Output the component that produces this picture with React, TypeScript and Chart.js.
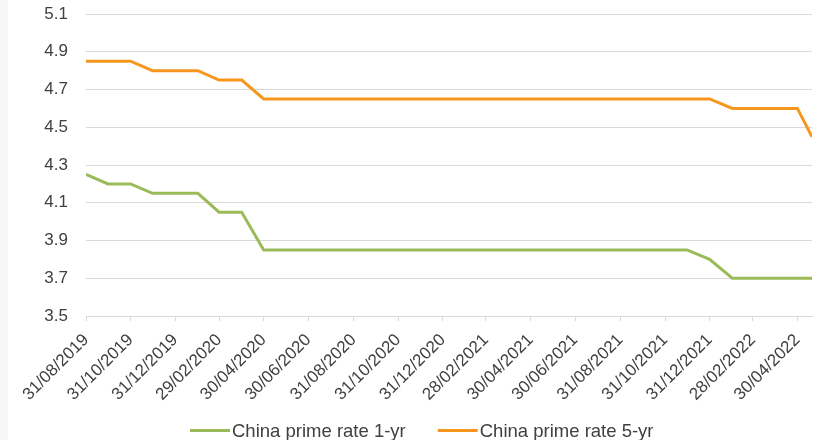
import React, { useEffect, useRef } from "react";
import { Chart, registerables } from "chart.js";

Chart.register(...registerables);

const dates = [
  "31/08/2019", "30/09/2019", "31/10/2019", "30/11/2019", "31/12/2019",
  "31/01/2020", "29/02/2020", "31/03/2020", "30/04/2020", "31/05/2020",
  "30/06/2020", "31/07/2020", "31/08/2020", "30/09/2020", "31/10/2020",
  "30/11/2020", "31/12/2020", "31/01/2021", "28/02/2021", "31/03/2021",
  "30/04/2021", "31/05/2021", "30/06/2021", "31/07/2021", "31/08/2021",
  "30/09/2021", "31/10/2021", "30/11/2021", "31/12/2021", "31/01/2022",
  "28/02/2022", "31/03/2022", "30/04/2022", "20/05/2022",
];

const rate1y = [
  4.25, 4.2, 4.2, 4.15, 4.15, 4.15, 4.05, 4.05, 3.85, 3.85,
  3.85, 3.85, 3.85, 3.85, 3.85, 3.85, 3.85, 3.85, 3.85, 3.85,
  3.85, 3.85, 3.85, 3.85, 3.85, 3.85, 3.85, 3.85, 3.8, 3.7,
  3.7, 3.7, 3.7, 3.7,
];

const rate5y = [
  4.85, 4.85, 4.85, 4.8, 4.8, 4.8, 4.75, 4.75, 4.65, 4.65,
  4.65, 4.65, 4.65, 4.65, 4.65, 4.65, 4.65, 4.65, 4.65, 4.65,
  4.65, 4.65, 4.65, 4.65, 4.65, 4.65, 4.65, 4.65, 4.65, 4.6,
  4.6, 4.6, 4.6, 4.45,
];

const tickLabels = [
  "31/08/2019", "31/10/2019", "31/12/2019", "29/02/2020", "30/04/2020",
  "30/06/2020", "31/08/2020", "31/10/2020", "31/12/2020", "28/02/2021",
  "30/04/2021", "30/06/2021", "31/08/2021", "31/10/2021", "31/12/2021",
  "28/02/2022", "30/04/2022",
];

const seriesNames = ["China prime rate 1-yr", "China prime rate 5-yr"];
const yMin = 3.5;
const yMax = 5.1;
const yStep = 0.2;

const toDay = (s: string) => {
  const [d, m, y] = s.split("/").map(Number);
  return Date.UTC(y, m - 1, d) / 86400000;
};
const fmtDay = (v: number) => {
  const dt = new Date(Math.round(v) * 86400000);
  const dd = String(dt.getUTCDate()).padStart(2, "0");
  const mm = String(dt.getUTCMonth() + 1).padStart(2, "0");
  return `${dd}/${mm}/${dt.getUTCFullYear()}`;
};

const FONT = '"Liberation Sans", Arial, sans-serif';

const legendPlugin = {
  id: "customLegend",
  afterDraw(chart: any) {
    const ctx = chart.ctx;
    ctx.save();
    ctx.font = `18.5px ${FONT}`;
    ctx.textBaseline = "middle";
    ctx.textAlign = "left";
    let x = 190;
    const y = 430.5;
    chart.data.datasets.forEach((ds: any) => {
      ctx.strokeStyle = ds.borderColor;
      ctx.lineWidth = 3;
      ctx.beginPath();
      ctx.moveTo(x, y);
      ctx.lineTo(x + 40, y);
      ctx.stroke();
      ctx.fillStyle = "#404040";
      ctx.fillText(ds.label, x + 42, y + 1);
      x += 42 + ctx.measureText(ds.label).width + 32;
    });
    ctx.restore();
  },
};

export default function App() {
  const ref = useRef<HTMLCanvasElement>(null);
  useEffect(() => {
    if (!ref.current) return;
    const xs = dates.map(toDay);
    const chart = new Chart(ref.current, {
      type: "line",
      data: {
        datasets: [
          {
            label: seriesNames[0],
            data: xs.map((x, i) => ({ x, y: rate1y[i] })),
            borderColor: "#9BBB59",
            backgroundColor: "#9BBB59",
            borderWidth: 3,
            pointRadius: 0,
            tension: 0,
          },
          {
            label: seriesNames[1],
            data: xs.map((x, i) => ({ x, y: rate5y[i] })),
            borderColor: "#F7961E",
            backgroundColor: "#F7961E",
            borderWidth: 3,
            pointRadius: 0,
            tension: 0,
          },
        ],
      },
      options: {
        responsive: false,
        animation: false,
        layout: { padding: { top: 14, right: 5, bottom: 0, left: 0 } },
        plugins: {
          legend: { display: false },
          tooltip: { enabled: false },
        },
        scales: {
          x: {
            type: "linear",
            min: xs[0],
            max: xs[xs.length - 1],
            afterBuildTicks: (s: any) => {
              s.ticks = tickLabels.map((t) => ({ value: toDay(t) }));
            },
            afterFit: (s: any) => {
              s.height = 124;
              s.paddingLeft = 0;
              s.paddingRight = 0;
            },
            ticks: {
              autoSkip: false,
              minRotation: 45,
              maxRotation: 45,
              padding: 9,
              color: "#404040",
              font: { family: FONT, size: 17 },
              callback: (v: any) => fmtDay(Number(v)),
            },
            grid: {
              display: true,
              drawOnChartArea: false,
              drawTicks: true,
              tickLength: 5,
              color: "#d9d9d9",
            },
            border: { display: true, color: "#d9d9d9" },
          },
          y: {
            min: yMin,
            max: yMax,
            afterFit: (s: any) => {
              s.width = 86;
            },
            ticks: {
              stepSize: yStep,
              padding: 0,
              color: "#404040",
              font: { family: FONT, size: 17 },
              callback: (v: any) => Number(v).toFixed(1),
            },
            grid: {
              color: "#d9d9d9",
              drawTicks: true,
              tickLength: 18,
              tickColor: "rgba(0,0,0,0)",
            },
            border: { display: false },
          },
        },
      },
      plugins: [legendPlugin],
    });
    return () => chart.destroy();
  }, []);
  return (
    <div style={{ position: "fixed", left: 0, top: 0, width: 817, height: 440, background: "#fff" }}>
      <div style={{ position: "absolute", left: 0, top: 0, width: 8, height: 440, background: "#f7f7f7" }} />
      <canvas ref={ref} width={817} height={440} style={{ position: "absolute", left: 0, top: 0 }} />
    </div>
  );
}
